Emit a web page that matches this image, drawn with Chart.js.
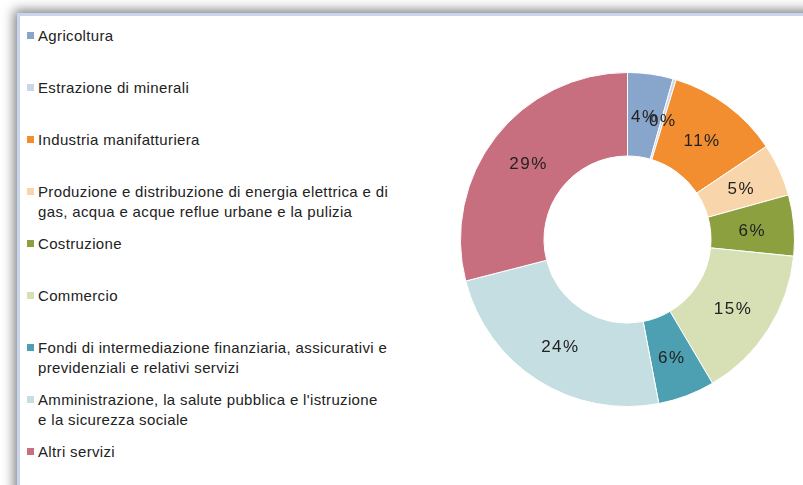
<!DOCTYPE html>
<html>
<head>
<meta charset="utf-8">
<script src="https://cdn.jsdelivr.net/npm/chart.js@4.4.1/dist/chart.umd.min.js"></script>
<style>
    body { margin: 0; background: #fff; width: 803px; height: 485px; overflow: hidden; position: relative; }
    .frame {
        position: absolute; left: 17px; top: 13px; width: 900px; height: 600px;
        border-left: 3px solid #c6d6ee; border-top: 3px solid #c6d6ee;
        background: #fff;
        box-shadow: -3px -3px 11px rgba(0, 0, 0, 0.5);
    }
    .chartBox { position: absolute; left: 460px; top: 72px; width: 335px; height: 335px; }
    .legend { position: absolute; left: 0; top: 26px; }
    .legend ul { list-style: none; margin: 0; padding: 0; }
    .legend li { position: relative; height: 52px; padding-left: 38px; }
    .legend .box { position: absolute; left: 27px; top: 6px; width: 7px; height: 7px; }
    .legend p {
        margin: 0; font-family: "Liberation Sans", Arial, sans-serif; font-size: 15px;
        letter-spacing: 0.35px; line-height: 20px; color: #222; white-space: nowrap;
    }
</style>
</head>
<body>
<div class="frame"></div>
<div id="legendSettori" class="legend"></div>
<div class="chartBox"><canvas id="chartSettori"></canvas></div>
<script>
// sectors, each label split on the lines it is wrapped on in the legend
const settori = [
    ["Agricoltura"],
    ["Estrazione di minerali"],
    ["Industria manifatturiera"],
    ["Produzione e distribuzione di energia elettrica e di", "gas, acqua e acque reflue urbane e la pulizia"],
    ["Costruzione"],
    ["Commercio"],
    ["Fondi di intermediazione finanziaria, assicurativi e", "previdenziali e relativi servizi"],
    ["Amministrazione, la salute pubblica e l'istruzione", "e la sicurezza sociale"],
    ["Altri servizi"]
];
// share in percent
const quote = [4.4, 0.3, 10.9, 5.1, 5.9, 14.9, 5.5, 24.0, 29.0];
const colori = ["#88a5cc", "#c9d5e8", "#f28e30", "#f9d5ab", "#8da03f", "#d7e0b5", "#4ca0b1", "#c4dee1", "#c76e7f"];

const htmlLegendPlugin = {
    id: 'htmlLegend',
    afterUpdate(chart, args, options) {
        const legendContainer = document.getElementById(options.containerID);
        let ul = legendContainer.querySelector('ul');
        if (!ul) {
            ul = document.createElement('ul');
            legendContainer.appendChild(ul);
        }
        while (ul.firstChild) {
            ul.firstChild.remove();
        }
        const ds = chart.data.datasets[0];
        chart.data.labels.forEach((label, i) => {
            const li = document.createElement('li');
            const boxSpan = document.createElement('span');
            boxSpan.className = "box";
            boxSpan.style.background = ds.backgroundColor[i];
            const p = document.createElement('p');
            p.innerHTML = label.join('<br>');
            li.appendChild(boxSpan);
            li.appendChild(p);
            ul.appendChild(li);
        });
    }
};

// percentage labels in the middle of each ring segment
const arcLabelsPlugin = {
    id: 'arcLabels',
    afterDatasetsDraw(chart) {
        const ctx = chart.ctx;
        const meta = chart.getDatasetMeta(0);
        const data = chart.data.datasets[0].data;
        ctx.save();
        ctx.font = '17px "Liberation Sans", Arial, sans-serif';
        ctx.letterSpacing = '1.5px';
        ctx.fillStyle = '#222';
        ctx.textAlign = 'center';
        ctx.textBaseline = 'middle';
        meta.data.forEach((arc, i) => {
            const pos = arc.tooltipPosition();
            // middle baseline sits a bit high for digits
            ctx.fillText(Math.round(data[i]) + '%', pos.x, pos.y + 2);
        });
        ctx.restore();
    }
};

new Chart(document.getElementById('chartSettori'), {
    type: 'doughnut',
    data: {
        labels: settori,
        datasets: [{
            data: quote,
            backgroundColor: colori,
            borderColor: '#fff',
            borderWidth: 1
        }]
    },
    options: {
        responsive: true,
        maintainAspectRatio: false,
        animation: false,
        cutout: '50%',
        layout: { padding: 0 },
        plugins: {
            legend: { display: false },
            tooltip: { enabled: false },
            htmlLegend: { containerID: 'legendSettori' }
        }
    },
    plugins: [htmlLegendPlugin, arcLabelsPlugin]
});
</script>
</body>
</html>
